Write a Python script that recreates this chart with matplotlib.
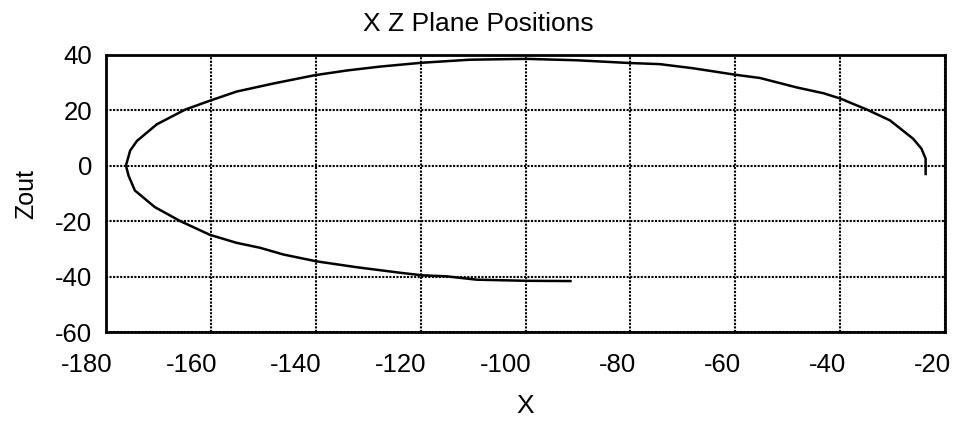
import matplotlib
matplotlib.use("Agg")
import matplotlib.pyplot as plt
from matplotlib.transforms import ScaledTranslation

plt.rcParams['font.family'] = ['Liberation Sans', 'DejaVu Sans']
plt.rcParams['axes.unicode_minus'] = False

# Trajectory in the X-Z plane
x_pos = [-23.7, -23.7, -24.5, -26.1, -30.5, -34.9, -40.0, -43.2, -48.3, -55.3,
         -60.1, -68.0, -74.4, -80.1, -90.3, -99.8, -110.6, -119.8, -127.8, -134.1,
         -140.2, -148.1, -155.1, -160.2, -164.9, -170.3, -174.1, -175.4, -176.2,
         -175.7, -174.5, -170.7, -165.9, -160.2, -155.1, -150.6, -146.2, -139.8,
         -132.2, -123.9, -119.8, -115.0, -109.3, -99.8, -91.2]
z_pos = [-3.4, 2.6, 6.2, 9.8, 16.4, 20.3, 24.3, 26.2, 28.3, 31.7,
         32.9, 35.2, 36.7, 37.1, 38.1, 38.6, 38.3, 37.2, 35.8, 34.4,
         32.7, 29.7, 26.8, 23.5, 20.3, 15.0, 9.0, 5.5, 0.1,
         -3.6, -8.9, -14.9, -19.9, -24.9, -27.8, -29.6, -32.0, -34.5,
         -36.6, -38.6, -39.5, -39.9, -41.1, -41.5, -41.6]

x_ticks = [-180, -160, -140, -120, -100, -80, -60, -40, -20]
z_ticks = [-60, -40, -20, 0, 20, 40]

fig = plt.figure(figsize=(9.57, 4.23), dpi=100)
ax = fig.add_axes([0.1108, 0.215, 0.8767, 0.655])

ax.plot(x_pos, z_pos, color='black', linewidth=1.8,
        solid_joinstyle='round', solid_capstyle='butt')

ax.set_xlim(-180, -20)
ax.set_ylim(-60, 40)
ax.set_xticks(x_ticks)
ax.set_yticks(z_ticks)
ax.tick_params(axis='both', length=0, labelsize=18.5)
ax.tick_params(axis='x', pad=15)
ax.tick_params(axis='y', pad=10)

# x labels sit right-aligned just past their grid line
shift = ScaledTranslation(6 / 100, 0, fig.dpi_scale_trans)
for lab in ax.get_xticklabels():
    lab.set_horizontalalignment('right')
    lab.set_transform(lab.get_transform() + shift)

ax.grid(True, color='black', linestyle=(0, (1, 0.7)), linewidth=1.5)
ax.set_axisbelow(True)
for sp in ax.spines.values():
    sp.set_linewidth(2)
    sp.set_color('black')

ax.set_xlabel('X', fontsize=19, labelpad=12)
ax.set_ylabel('Zout', fontsize=18, labelpad=12)
fig.suptitle('X Z Plane Positions', fontsize=19, x=0.5, y=0.972)

fig.savefig('out.png', dpi=100)
